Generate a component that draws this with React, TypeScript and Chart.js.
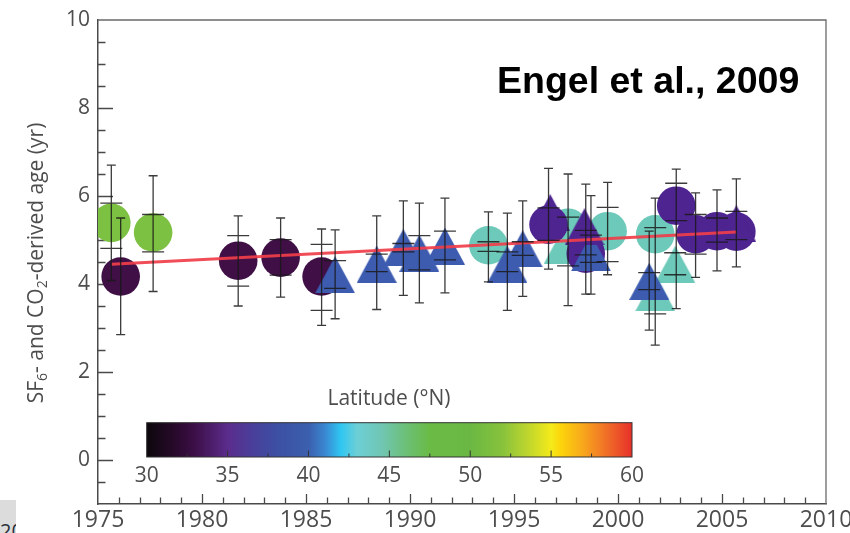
import React, { useEffect, useRef } from 'react';
import { Chart, registerables } from 'chart.js';

Chart.register(...registerables);

// ---------- tick labels ----------
const xLabelTicks = [1975, 1980, 1985, 1990, 1995, 2000, 2005, 2010];
const yLabelTicks = [0, 2, 4, 6, 8, 10];
const latitudeTicks = [30, 35, 40, 45, 50, 55, 60];

// ---------- linear fit ----------
const fitYears = [1975.64, 2005.69];
const fitAges = [4.45, 5.18];

// ---------- green circles (~48°N) ----------
const greenYears = [1975.64, 1977.65];
const greenAges = [5.39, 5.17];
const greenHi = [6.7, 6.46];
const greenLo = [4.08, 3.83];
const greenInHi = [5.84, 5.58];
const greenInLo = [4.81, 4.73];

// ---------- dark purple circles (~32°N) ----------
const darkYears = [1976.09, 1981.74, 1983.78, 1985.75];
const darkAges = [4.17, 4.53, 4.6, 4.17];
const darkHi = [5.5, 5.55, 5.5, 5.25];
const darkLo = [2.85, 3.5, 3.7, 3.06];
const darkInHi = [null, 5.1, 5.01, 4.9];
const darkInLo = [null, 3.95, 4.2, 3.4];

// ---------- blue triangles (~39°N) ----------
const blueYears = [1986.4, 1988.4, 1989.68, 1990.45, 1991.68, 1994.68, 1995.42, 1998.7, 2001.5];
const blueAges = [4.21, 4.45, 4.83, 4.7, 4.86, 4.45, 4.8, 4.71, 4.06];
const blueHi = [5.23, 5.55, 5.89, 5.84, 5.95, 5.61, 5.89, 6.01, 5.2];
const blueLo = [3.21, 3.42, 3.74, 3.57, 3.8, 3.4, 3.72, 3.77, 2.95];
const blueInHi = [4.53, 4.68, 4.92, 5.1, 5.2, 4.73, 4.96, 5.11, 4.26];
const blueInLo = [3.9, 4.28, 4.73, 4.32, 4.55, 4.28, 4.65, 4.49, 3.87];

// ---------- teal circles (~44°N) ----------
const tealYears = [1993.77, 1997.6, 1999.5, 2001.79];
const tealAges = [4.88, 5.28, 5.2, 5.13];
const tealHi = [5.64, 6.5, 6.31, 5.95];
const tealLo = [4.05, 3.51, 4.21, 2.61];
const tealInHi = [4.96, 5.52, 5.74, 5.28];
const tealInLo = [4.74, 4.41, 4.51, 3.32];

// ---------- teal triangles (~44°N) ----------
const tealTriYears = [1997.38, 2001.79, 2002.75];
const tealTriAges = [4.87, 3.8, 4.45];
const tealTriHi = [null, null, null];
const tealTriLo = [null, null, null];
const tealTriInHi = [null, null, 4.71];
const tealTriInLo = [null, null, 4.21];

// ---------- purple circles (~35°N) ----------
const purpleYears = [1996.66, 1998.45, 2002.8, 2003.73, 2004.76, 2005.69];
const purpleAges = [5.35, 4.69, 5.78, 5.13, 5.2, 5.19];
const purpleHi = [6.63, 6.27, 6.61, 6.07, 6.14, 6.39];
const purpleLo = [4.34, 3.77, 3.44, 4.15, 4.3, 4.39];
const purpleInHi = [5.73, 5.22, 6.29, 5.58, 5.5, 5.65];
const purpleInLo = [4.99, 4.66, 5.44, 4.68, 4.95, 5.01];

// ---------- purple triangles (~35°N) ----------
const purpleTriYears = [1996.74, 1998.39, 2005.69];
const purpleTriAges = [5.62, 5.3, 5.37];

// ---------- colours ----------
const GREEN = '#7cc142';
const DARK_PURPLE = '#3f0f46';
const PURPLE = '#4e2491';
const BLUE = '#3d5cb0';
const TEAL = '#6dc9b9';

const colorbarStops: [number, string][] = [
  [30, '#0c070c'], [32, '#2c0a30'], [33, '#3d0f48'], [35, '#5b2c8c'], [36.5, '#4a3e9a'],
  [38, '#3d4fa2'], [40, '#3b5fae'], [41, '#3a86d0'], [42, '#2fc6f2'], [43, '#6ccfd6'],
  [44.5, '#70c6b4'], [46, '#6cc078'], [47.5, '#6abb45'], [50, '#6ab843'], [52, '#88c23c'],
  [53.5, '#bcd52e'], [55, '#f4ea1a'], [55.6, '#fcd40c'], [57, '#f8a61c'], [58.5, '#f06c28'],
  [60, '#e7302a'],
];

const FONT = "'Open Sans', sans-serif";
const TEXT_COLOR = '#4d4d4d';
const AXIS_COLOR = '#4a4a4a';

function makeTriangle(color: string): HTMLCanvasElement {
  const c = document.createElement('canvas');
  c.width = 40;
  c.height = 37;
  const g = c.getContext('2d')!;
  g.fillStyle = color;
  g.beginPath();
  g.moveTo(20, 0);
  g.lineTo(40, 37);
  g.lineTo(0, 37);
  g.closePath();
  g.fill();
  return c;
}

function pts(xs: number[], ys: number[]) {
  return xs.map((x, i) => ({ x, y: ys[i] }));
}

const framePlugin = {
  id: 'frameTicks',
  beforeDatasetsDraw(chart: any) {
    const { ctx, chartArea: a, scales } = chart;
    const x = scales.x;
    const y = scales.y;
    ctx.save();
    ctx.strokeStyle = '#6a6a6a';
    ctx.lineWidth = 1.3;
    ctx.beginPath();
    ctx.moveTo(a.left, a.top);
    ctx.lineTo(a.right, a.top);
    ctx.lineTo(a.right, a.bottom);
    ctx.stroke();
    ctx.strokeStyle = AXIS_COLOR;
    ctx.beginPath();
    for (let yr = 1976; yr < 2010; yr++) {
      const px = Math.round(x.getPixelForValue(yr)) + 0.5;
      const len = yr % 5 === 0 ? 10 : 6.5;
      ctx.moveTo(px, a.bottom);
      ctx.lineTo(px, a.bottom - len);
    }
    for (let k = -1; k < 20; k++) {
      const v = k * 0.5;
      const py = Math.round(y.getPixelForValue(v)) + 0.5;
      const len = k % 4 === 0 ? 15 : 7.5;
      ctx.moveTo(a.left, py);
      ctx.lineTo(a.left + len, py);
    }
    ctx.stroke();
    ctx.restore();
  },
};

const errorBarPlugin = {
  id: 'errorBars',
  afterDatasetsDraw(chart: any) {
    const { ctx, scales } = chart;
    const x = scales.x;
    const y = scales.y;
    ctx.save();
    ctx.strokeStyle = 'rgba(25,25,25,0.85)';
    ctx.lineWidth = 1.3;
    chart.data.datasets.forEach((ds: any) => {
      const e = ds.errors;
      if (!e) return;
      ds.data.forEach((p: any, i: number) => {
        const px = x.getPixelForValue(p.x);
        const hi = e.hi[i];
        const lo = e.lo[i];
        ctx.beginPath();
        if (hi != null && lo != null) {
          const ph = y.getPixelForValue(hi);
          const pl = y.getPixelForValue(lo);
          ctx.moveTo(px, ph);
          ctx.lineTo(px, pl);
          ctx.moveTo(px - 4.5, ph);
          ctx.lineTo(px + 4.5, ph);
          ctx.moveTo(px - 4.5, pl);
          ctx.lineTo(px + 4.5, pl);
        }
        [e.inHi[i], e.inLo[i]].forEach((v: number | null) => {
          if (v == null) return;
          const py = y.getPixelForValue(v);
          ctx.moveTo(px - 11, py);
          ctx.lineTo(px + 11, py);
        });
        ctx.stroke();
      });
    });
    ctx.restore();
  },
};

const decorPlugin = {
  id: 'decor',
  afterDraw(chart: any) {
    const { ctx, chartArea: a } = chart;
    ctx.save();
    // colour bar
    const x0 = 146.7, x1 = 632, y0 = 422.7, y1 = 457;
    const grad = ctx.createLinearGradient(x0, 0, x1, 0);
    colorbarStops.forEach(([lat, col]) => grad.addColorStop((lat - 30) / 30, col));
    ctx.fillStyle = grad;
    ctx.fillRect(x0, y0, x1 - x0, y1 - y0);
    ctx.strokeStyle = '#333';
    ctx.lineWidth = 1;
    ctx.strokeRect(x0, y0, x1 - x0, y1 - y0);
    const lx = (lat: number) => x0 + ((lat - 30) / 30) * (x1 - x0);
    ctx.beginPath();
    for (let k = 1; k < 12; k++) {
      const lat = 30 + k * 2.5;
      const px = lx(lat);
      const len = k % 2 === 0 ? 6.5 : 3.5;
      ctx.moveTo(px, y1);
      ctx.lineTo(px, y1 - len);
    }
    ctx.stroke();
    ctx.fillStyle = TEXT_COLOR;
    ctx.font = `21px ${FONT}`;
    ctx.textAlign = 'center';
    ctx.textBaseline = 'middle';
    latitudeTicks.forEach((lat) => ctx.fillText(String(lat), lx(lat), 476));
    ctx.textBaseline = 'alphabetic';
    ctx.font = `21px ${FONT}`;
    ctx.fillText('Latitude (°N)', 389, 405);

    // citation
    ctx.fillStyle = '#000';
    ctx.font = "bold 37.5px 'Liberation Sans', Arial, sans-serif";
    ctx.textAlign = 'left';
    ctx.fillText('Engel et al., 2009', 497, 93);

    // y axis title with subscripts
    const parts: [string, boolean][] = [
      ['SF', false], ['6', true], ['- and CO', false], ['2', true], ['-derived age (yr)', false],
    ];
    const mainFont = `21px ${FONT}`;
    const subFont = `14px ${FONT}`;
    let total = 0;
    parts.forEach(([t, sub]) => {
      ctx.font = sub ? subFont : mainFont;
      total += ctx.measureText(t).width;
    });
    ctx.translate(36, (a.top + a.bottom) / 2 + 1);
    ctx.rotate(-Math.PI / 2);
    ctx.fillStyle = TEXT_COLOR;
    ctx.textBaseline = 'alphabetic';
    let cx = -total / 2;
    parts.forEach(([t, sub]) => {
      ctx.font = sub ? subFont : mainFont;
      ctx.fillText(t, cx, sub ? 11 : 7);
      cx += ctx.measureText(t).width;
    });
    ctx.restore();
  },
};

export default function App() {
  const ref = useRef<HTMLCanvasElement | null>(null);

  useEffect(() => {
    if (!ref.current) return;
    const triBlue = makeTriangle(BLUE);
    const triTeal = makeTriangle(TEAL);
    const triPurple = makeTriangle(PURPLE);

    const circle = (label: string, xs: number[], ys: number[], color: string, errors?: any) => ({
      type: 'scatter' as const,
      label,
      data: pts(xs, ys),
      pointStyle: 'circle',
      pointRadius: 19.3,
      pointBackgroundColor: color,
      pointBorderWidth: 0,
      showLine: false,
      errors,
    });
    const tri = (label: string, xs: number[], ys: number[], img: HTMLCanvasElement, errors?: any) => ({
      type: 'scatter' as const,
      label,
      data: pts(xs, ys),
      pointStyle: img,
      pointRadius: 20,
      pointBorderWidth: 0,
      showLine: false,
      errors,
    });

    const chart = new Chart(ref.current, {
      type: 'scatter',
      data: {
        datasets: [
          {
            type: 'line',
            label: 'fit',
            data: pts(fitYears, fitAges),
            borderColor: 'rgba(240,62,74,0.92)',
            borderWidth: 3,
            pointRadius: 0,
            showLine: true,
            fill: false,
          } as any,
          tri('purple triangles', purpleTriYears, purpleTriAges, triPurple),
          tri('blue triangles', blueYears, blueAges, triBlue, {
            hi: blueHi, lo: blueLo, inHi: blueInHi, inLo: blueInLo,
          }),
          circle('purple circles', purpleYears, purpleAges, PURPLE, {
            hi: purpleHi, lo: purpleLo, inHi: purpleInHi, inLo: purpleInLo,
          }),
          tri('teal triangles', tealTriYears, tealTriAges, triTeal, {
            hi: tealTriHi, lo: tealTriLo, inHi: tealTriInHi, inLo: tealTriInLo,
          }),
          circle('teal circles', tealYears, tealAges, TEAL, {
            hi: tealHi, lo: tealLo, inHi: tealInHi, inLo: tealInLo,
          }),
          circle('dark purple circles', darkYears, darkAges, DARK_PURPLE, {
            hi: darkHi, lo: darkLo, inHi: darkInHi, inLo: darkInLo,
          }),
          circle('green circles', greenYears, greenAges, GREEN, {
            hi: greenHi, lo: greenLo, inHi: greenInHi, inLo: greenInLo,
          }),
        ] as any,
      },
      options: {
        responsive: false,
        animation: false,
        layout: { padding: { top: 15, right: 24, left: 0, bottom: 0 } },
        plugins: {
          legend: { display: false },
          tooltip: { enabled: false },
          title: { display: false },
        },
        scales: {
          x: {
            type: 'linear',
            min: 1975,
            max: 2010,
            afterBuildTicks: (s: any) => {
              s.ticks = xLabelTicks.map((v) => ({ value: v }));
            },
            afterFit: (s: any) => {
              s.height = 29;
              s.paddingLeft = 0;
              s.paddingRight = 0;
            },
            grid: { display: false, drawTicks: false },
            border: { display: true, color: AXIS_COLOR, width: 1.5 },
            ticks: {
              autoSkip: false,
              maxRotation: 0,
              padding: 3,
              color: TEXT_COLOR,
              font: { family: FONT, size: 23 },
              callback: (v: any) => String(v),
            },
          },
          y: {
            type: 'linear',
            min: -1,
            max: 10,
            afterBuildTicks: (s: any) => {
              s.ticks = yLabelTicks.map((v) => ({ value: v }));
            },
            afterFit: (s: any) => {
              s.width = 98;
              s.paddingTop = 0;
              s.paddingBottom = 0;
            },
            grid: { display: false, drawTicks: false },
            border: { display: true, color: AXIS_COLOR, width: 1.5 },
            ticks: {
              autoSkip: false,
              padding: 8,
              color: TEXT_COLOR,
              font: { family: FONT, size: 21 },
              callback: (v: any) => String(v),
            },
          },
        },
      },
      plugins: [framePlugin, errorBarPlugin, decorPlugin],
    } as any);

    return () => chart.destroy();
  }, []);

  return (
    <div style={{ position: 'absolute', left: 0, top: 0, width: 850, height: 533, background: '#fff', overflow: 'hidden' }}>
      <canvas ref={ref} width={850} height={533} style={{ display: 'block' }} />
      <div
        style={{
          position: 'absolute', left: 0, top: 500, width: 16, height: 33,
          background: '#dcdcdc', overflow: 'hidden',
        }}
      >
        <span
          style={{
            position: 'absolute', left: 0, top: 21, fontFamily: FONT, fontSize: 20,
            lineHeight: '20px', color: '#2a2f3a', whiteSpace: 'nowrap',
          }}
        >
          20
        </span>
      </div>
    </div>
  );
}
